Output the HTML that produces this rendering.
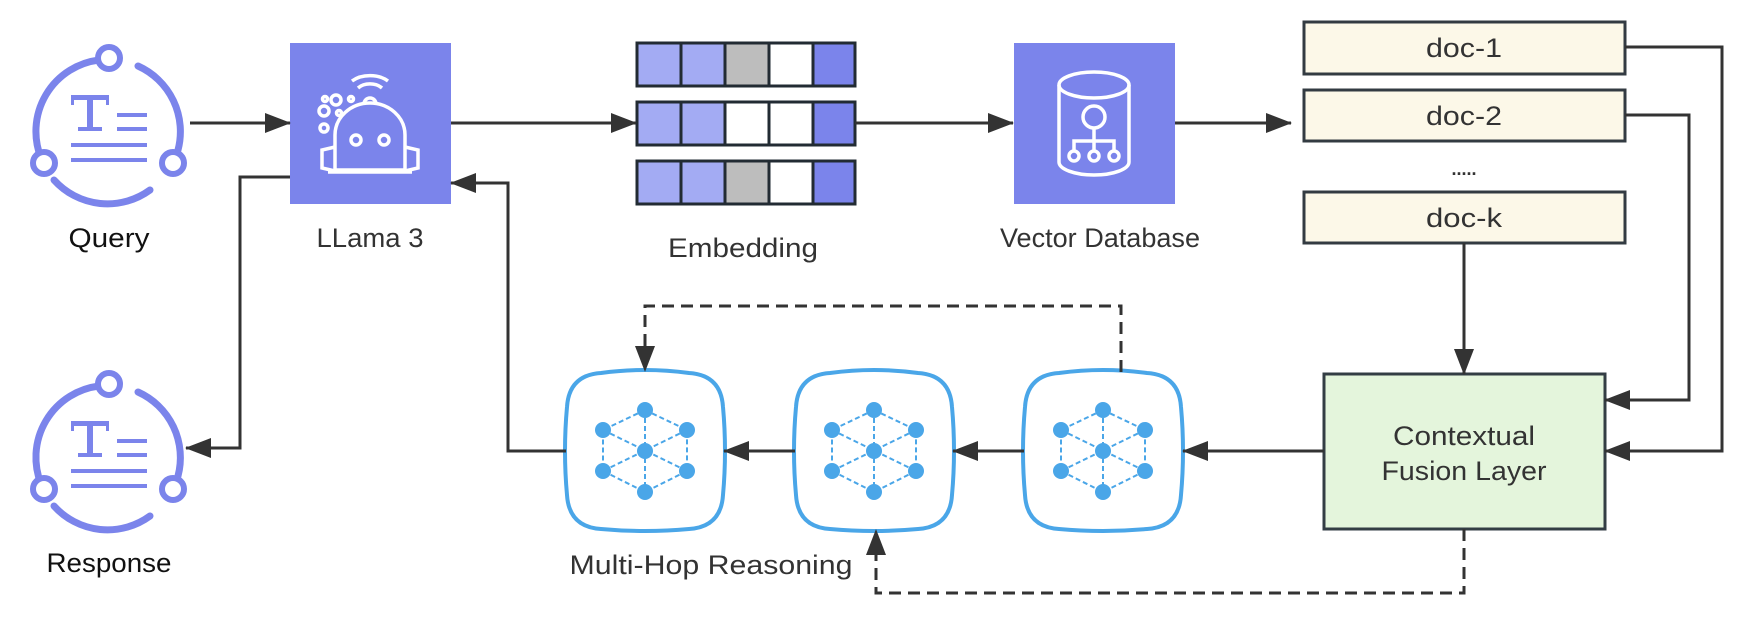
<!DOCTYPE html>
<html><head><meta charset="utf-8"><style>html,body{margin:0;padding:0;background:#fff;}svg{display:block;}</style></head>
<body>
<svg width="1749" height="623" viewBox="0 0 1749 623" xmlns="http://www.w3.org/2000/svg" font-family="Liberation Sans, sans-serif">
<defs>
<marker id="ah" markerWidth="26" markerHeight="20" refX="25" refY="10" orient="auto" markerUnits="userSpaceOnUse"><path d="M0,0 L26,10 L0,20 Z" fill="#333"/></marker>
<g id="doc">
  <g fill="none" stroke="#7b84eb" stroke-width="7" stroke-linecap="round">
    <path d="M99,60 A72,72 0 0 0 41,158"/>
    <path d="M138,66 A72,72 0 0 1 178,150"/>
    <path d="M150,190 A72,72 0 0 1 54,180"/>
  </g>
  <g fill="#fff" stroke="#7b84eb" stroke-width="6">
    <circle cx="109" cy="58" r="11"/><circle cx="44" cy="163" r="11"/><circle cx="173" cy="163" r="11"/>
  </g>
  <g fill="#7b84eb">
    <rect x="71" y="95" width="38" height="5"/><rect x="87" y="95" width="6" height="36"/><rect x="78" y="127" width="24" height="4"/>
    <rect x="71" y="95" width="3" height="10"/><rect x="106" y="95" width="3" height="10"/>
    <rect x="117" y="113" width="30" height="4"/><rect x="117" y="127" width="30" height="4"/>
    <rect x="71" y="143" width="76" height="4"/><rect x="71" y="158" width="76" height="4"/>
  </g>
</g>
<g id="hop">
  <path d="M-44,-78 Q0,-84 44,-78 Q76,-76 78,-44 Q82,0 78,44 Q76,76 44,78 Q0,82 -44,78 Q-76,76 -78,44 Q-82,0 -78,-44 Q-76,-76 -44,-78 Z" fill="#fff" stroke="#4aa6e8" stroke-width="4"/>
  <g stroke="#4aa6e8" stroke-width="2" stroke-dasharray="5,3" fill="none">
    <path d="M0,-41 L-42,-21 L-42,20 L0,41 L42,20 L42,-21 Z"/>
    <path d="M0,-41 L0,41 M-42,-21 L42,20 M42,-21 L-42,20"/>
  </g>
  <g fill="#4aa6e8">
    <circle cx="0" cy="-41" r="8"/><circle cx="0" cy="41" r="8"/><circle cx="0" cy="0" r="8"/>
    <circle cx="-42" cy="-21" r="8"/><circle cx="42" cy="-21" r="8"/><circle cx="-42" cy="20" r="8"/><circle cx="42" cy="20" r="8"/>
  </g>
</g>
</defs>

<use href="#doc" x="0" y="0"/>
<use href="#doc" x="0" y="326"/>
<text x="109" y="247" font-size="27" text-anchor="middle" fill="#111" textLength="81" lengthAdjust="spacingAndGlyphs">Query</text>
<text x="109" y="572" font-size="27" text-anchor="middle" fill="#111" textLength="125" lengthAdjust="spacingAndGlyphs">Response</text>

<rect x="290" y="43" width="161" height="161" fill="#7b84eb"/>
<g fill="none" stroke="#fff" stroke-width="3.5">
  <path d="M335,170 L335,135 A35,32 0 0 1 405,135 L405,170 Z"/>
  <path d="M335,147 L322,150 L322,168 L335,171 M405,147 L418,150 L418,168 L405,171"/>
  <path d="M328,172 L412,172"/>
  <circle cx="356" cy="140" r="5"/><circle cx="384" cy="140" r="5"/>
  <path d="M364,104 A6,6 0 0 1 376,104"/>
  <path d="M358,88 A16,12 0 0 1 382,88"/><path d="M352,81 A24,16 0 0 1 388,81"/>
  <circle cx="336" cy="100" r="5"/><circle cx="324" cy="111" r="5"/><circle cx="324" cy="128" r="4"/>
  <circle cx="325" cy="99" r="2.5"/><circle cx="339" cy="113" r="2.5"/><circle cx="351" cy="99" r="2.5"/>
</g>
<text x="370" y="247" font-size="27" text-anchor="middle" fill="#333" textLength="107" lengthAdjust="spacingAndGlyphs">LLama 3</text>

<g stroke="#222b33" stroke-width="3">
  <rect x="637" y="43" width="44" height="43" fill="#a3abf3"/><rect x="681" y="43" width="44" height="43" fill="#a3abf3"/><rect x="725" y="43" width="44" height="43" fill="#bdbdbd"/><rect x="769" y="43" width="44" height="43" fill="#fff"/><rect x="813" y="43" width="42" height="43" fill="#7b84eb"/>
  <rect x="637" y="102" width="44" height="43" fill="#a3abf3"/><rect x="681" y="102" width="44" height="43" fill="#a3abf3"/><rect x="725" y="102" width="44" height="43" fill="#fff"/><rect x="769" y="102" width="44" height="43" fill="#fff"/><rect x="813" y="102" width="42" height="43" fill="#7b84eb"/>
  <rect x="637" y="161" width="44" height="43" fill="#a3abf3"/><rect x="681" y="161" width="44" height="43" fill="#a3abf3"/><rect x="725" y="161" width="44" height="43" fill="#bdbdbd"/><rect x="769" y="161" width="44" height="43" fill="#fff"/><rect x="813" y="161" width="42" height="43" fill="#7b84eb"/>
</g>
<text x="743" y="257" font-size="27" text-anchor="middle" fill="#333" textLength="150" lengthAdjust="spacingAndGlyphs">Embedding</text>

<rect x="1014" y="43" width="161" height="161" fill="#7b84eb"/>
<g fill="none" stroke="#fff" stroke-width="3.5">
  <ellipse cx="1094" cy="85" rx="35" ry="13"/>
  <path d="M1059,85 L1059,162 A35,13 0 0 0 1129,162 L1129,85"/>
  <circle cx="1094" cy="117" r="11"/>
  <path d="M1094,128 L1094,141 M1074,152 L1074,141 L1114,141 L1114,152 M1094,141 L1094,152"/>
  <circle cx="1074" cy="156" r="5"/><circle cx="1094" cy="156" r="5"/><circle cx="1114" cy="156" r="5"/>
</g>
<text x="1100" y="247" font-size="27" text-anchor="middle" fill="#333" textLength="200" lengthAdjust="spacingAndGlyphs">Vector Database</text>

<g fill="#fcf8e8" stroke="#333b42" stroke-width="3">
  <rect x="1304" y="22" width="321" height="52"/>
  <rect x="1304" y="90" width="321" height="51"/>
  <rect x="1304" y="192" width="321" height="51"/>
</g>
<g font-size="27" fill="#333" text-anchor="middle" lengthAdjust="spacingAndGlyphs">
  <text x="1464" y="57" textLength="76" lengthAdjust="spacingAndGlyphs">doc-1</text>
  <text x="1464" y="125" textLength="76" lengthAdjust="spacingAndGlyphs">doc-2</text>
  <text x="1464" y="175" font-weight="bold" font-size="18">.....</text>
  <text x="1464" y="227" textLength="76" lengthAdjust="spacingAndGlyphs">doc-k</text>
</g>

<rect x="1324" y="374" width="281" height="155" fill="#e4f5dc" stroke="#333d44" stroke-width="3"/>
<text x="1464" y="445" font-size="27" text-anchor="middle" fill="#333" textLength="142" lengthAdjust="spacingAndGlyphs">Contextual</text>
<text x="1464" y="480" font-size="27" text-anchor="middle" fill="#333" textLength="165" lengthAdjust="spacingAndGlyphs">Fusion Layer</text>

<use href="#hop" x="645" y="451"/>
<use href="#hop" x="874" y="451"/>
<use href="#hop" x="1103" y="451"/>
<text x="711" y="574" font-size="27" text-anchor="middle" fill="#333" textLength="283" lengthAdjust="spacingAndGlyphs">Multi-Hop Reasoning</text>

<g fill="none" stroke="#333" stroke-width="3">
  <path d="M190,123 L290,123" marker-end="url(#ah)"/>
  <path d="M451,123 L636,123" marker-end="url(#ah)"/>
  <path d="M855,123 L1013,123" marker-end="url(#ah)"/>
  <path d="M1175,123 L1291,123" marker-end="url(#ah)"/>
  <path d="M290,177 L240,177 L240,448 L186,448" marker-end="url(#ah)"/>
  <path d="M566,451 L508,451 L508,183 L451,183" marker-end="url(#ah)"/>
  <path d="M1625,47 L1722,47 L1722,451 L1605,451" marker-end="url(#ah)"/>
  <path d="M1625,115 L1689,115 L1689,400 L1605,400" marker-end="url(#ah)"/>
  <path d="M1464,243 L1464,374" marker-end="url(#ah)"/>
  <path d="M1324,451 L1183,451" marker-end="url(#ah)"/>
  <path d="M1024,451 L953,451" marker-end="url(#ah)"/>
  <path d="M795,451 L724,451" marker-end="url(#ah)"/>
</g>
<g fill="none" stroke="#333" stroke-width="3" stroke-dasharray="12,7">
  <path d="M1121,372 L1121,306 L645,306 L645,350"/>
  <path d="M1464,529 L1464,593 L876,593 L876,552"/>
</g>
<path d="M635,346 L655,346 L645,372 Z" fill="#333"/>
<path d="M866,555 L886,555 L876,529 Z" fill="#333"/>
</svg>
</body></html>
